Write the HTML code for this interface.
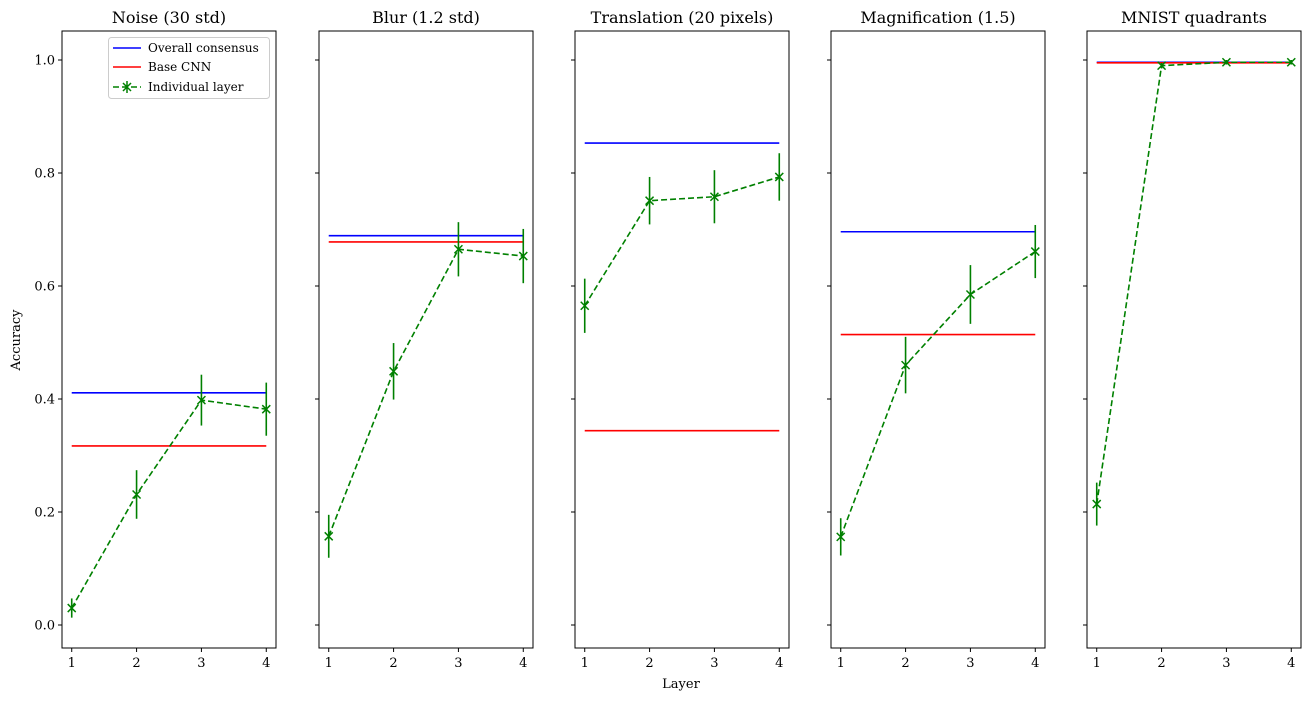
<!DOCTYPE html>
<html><head><meta charset="utf-8"><style>
body{margin:0;background:#fff;}
svg text{font-family:"DejaVu Serif","Liberation Serif",serif;fill:#000;}
</style></head><body>
<svg id="chart" width="1314" height="700" xmlns="http://www.w3.org/2000/svg"></svg>
<script>
const titles=["Noise (30 std)","Blur (1.2 std)","Translation (20 pixels)","Magnification (1.5)","MNIST quadrants"];
const layers=[1,2,3,4];
const consensus=[0.411,0.689,0.853,0.696,0.996];
const baseCnn=[0.317,0.678,0.344,0.514,0.995];
const layerAcc=[[0.030,0.231,0.398,0.382],[0.157,0.449,0.665,0.653],[0.565,0.751,0.758,0.793],[0.156,0.460,0.585,0.661],[0.214,0.990,0.996,0.996]];
const layerErr=[[0.017,0.043,0.045,0.047],[0.038,0.050,0.048,0.048],[0.048,0.042,0.047,0.042],[0.033,0.050,0.052,0.047],[0.038,0.005,0.004,0.004]];
const yTicks=[0,0.2,0.4,0.6,0.8,1.0];
const yTickLabels=["0.0","0.2","0.4","0.6","0.8","1.0"];

const svg=document.getElementById('chart');
const NS="http://www.w3.org/2000/svg";
function mk(t,a,p){const e=document.createElementNS(NS,t);for(const k in a)e.setAttribute(k,a[k]);(p||svg).appendChild(e);return e;}
const panelX=[62,319,575,831,1087],pw=214,plotTop=31,plotBot=648;
const yScale=v=>625-v*565;
panelX.forEach((px,i)=>{
  const xScale=l=>px+(l-0.85)/3.3*pw;
  const g=mk('g',{});
  
  
  const t=mk('text',{x:px+pw/2,y:23,'text-anchor':'middle','font-size':16},g);t.textContent=titles[i];
  
  
  yTicks.forEach((v,j)=>{mk('line',{x1:px-4,x2:px,y1:yScale(v),y2:yScale(v),stroke:'#000'},g);
    if(i===0){const tl=mk('text',{x:px-7,y:yScale(v)+4.5,'text-anchor':'end','font-size':13},g);tl.textContent=yTickLabels[j];
      
      }});
  layers.forEach(l=>{mk('line',{x1:xScale(l),x2:xScale(l),y1:plotBot,y2:plotBot+4,stroke:'#000'},g);
    const tl=mk('text',{x:xScale(l),y:plotBot+19,'text-anchor':'middle','font-size':13},g);tl.textContent=l;
    
    });
  const b=mk('line',{x1:xScale(1),x2:xScale(4),y1:yScale(consensus[i]),y2:yScale(consensus[i]),stroke:'#0000ff','stroke-width':1.6},g);
  
  
  const r=mk('line',{x1:xScale(1),x2:xScale(4),y1:yScale(baseCnn[i]),y2:yScale(baseCnn[i]),stroke:'#ff0000','stroke-width':1.6},g);
  
  
  const pl=mk('polyline',{points:layers.map((l,k)=>xScale(l)+','+yScale(layerAcc[i][k])).join(' '),fill:'none',stroke:'#008000','stroke-width':1.6,'stroke-dasharray':'6,3'},g);
  
  
  layers.forEach((l,k)=>{const cx=xScale(l),cy=yScale(layerAcc[i][k]),e=layerErr[i][k]*565;
    const eb=mk('line',{x1:cx,x2:cx,y1:cy-e,y2:cy+e,stroke:'#008000','stroke-width':1.6},g);
    
    
    const m=mk('path',{d:`M${cx-4},${cy-4}L${cx+4},${cy+4}M${cx-4},${cy+4}L${cx+4},${cy-4}`,stroke:'#008000','stroke-width':1.5},g);
    
    });
  mk('rect',{x:px,y:plotTop,width:pw,height:plotBot-plotTop,fill:'none',stroke:'#000','stroke-width':1},g);
});
const yl=mk('text',{x:20,y:340,'text-anchor':'middle','font-size':13,transform:'rotate(-90 20 340)'});yl.textContent='Accuracy';


const xl=mk('text',{x:681,y:688,'text-anchor':'middle','font-size':13});xl.textContent='Layer';


const lg=mk('g',{});


mk('rect',{x:108.5,y:37.5,width:161,height:61,rx:3,fill:'#fff',stroke:'#ccc'},lg);
[["Overall consensus","#0000ff",48],["Base CNN","#ff0000",67],["Individual layer","#008000",87]].forEach((d,k)=>{
  const e=mk('g',{},lg);
  
  
  mk('line',{x1:113,x2:141,y1:d[2],y2:d[2],stroke:d[1],'stroke-width':1.6,'stroke-dasharray':k==2?'6,3':'none'},e);
  if(k==2){mk('path',{d:`M123,${d[2]-4}L131,${d[2]+4}M123,${d[2]+4}L131,${d[2]-4}M127,${d[2]-6}L127,${d[2]+6}`,stroke:d[1],'stroke-width':1.5},e);}
  const t=mk('text',{x:148,y:d[2]+4,'font-size':12},e);t.textContent=d[0];
});
</script>
</body></html>
